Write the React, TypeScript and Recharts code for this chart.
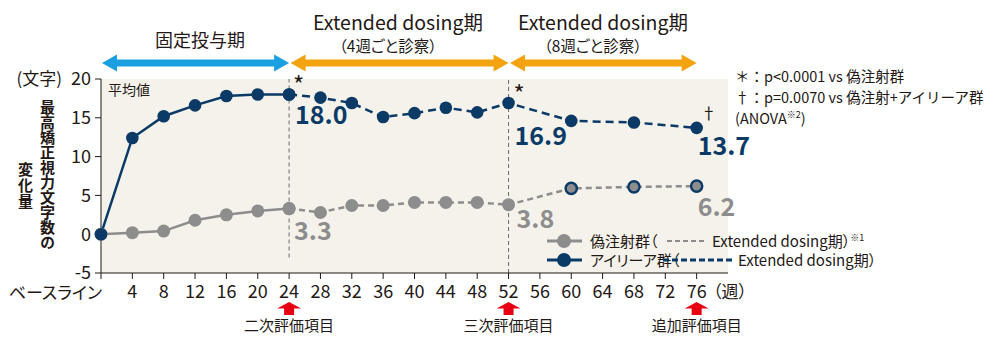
import React from "react";
import { LineChart, Line, XAxis, YAxis, ReferenceLine, ReferenceArea, LabelList } from "recharts";

const WEEKS = [0, 4, 8, 12, 16, 20, 24, 28, 32, 36, 40, 44, 48, 52, 60, 68, 76];
const EYLEA = [0, 12.4, 15.2, 16.6, 17.8, 18.0, 18.0, 17.6, 16.9, 15.1, 15.6, 16.3, 15.7, 16.9, 14.6, 14.4, 13.7];
const SHAM = [0, 0.2, 0.4, 1.8, 2.5, 3.0, 3.3, 2.8, 3.7, 3.7, 4.1, 4.1, 4.1, 3.8, 5.9, 6.1, 6.2];
const X_TICKS = [0, 4, 8, 12, 16, 20, 24, 28, 32, 36, 40, 44, 48, 52, 56, 60, 64, 68, 72, 76];
const Y_TICKS = [-5, 0, 5, 10, 15, 20];
const FIXED_END = 24; // end of fixed dosing, start of dashed lines
const PERIOD_BREAK = 52;
const LAST_WEEK = 76;
const LABELED_WEEKS = [24, 52, 76];
const SHAM_CROSSOVER = 60; // sham points from here on get a navy ring
const EVAL_MARKS = [
  { week: 24, label: "二次評価項目" },
  { week: 52, label: "三次評価項目" },
  { week: 76, label: "追加評価項目" },
];
const Y_TITLE_1 = "最高矯正視力文字数の";
const Y_TITLE_2 = "変化量";

const NAVY = "#0b3a66";
const GRAY = "#8d8d8d";
const INK = "#231815";
const BG = "#f4f2ea";
const FONT = "'Noto Sans CJK JP', 'Noto Sans', sans-serif";

// plot geometry, shared by the chart margins and the overlay annotations
const W = 1000;
const H = 353;
const PLOT_L = 101;
const PLOT_R = 728;
const PLOT_T = 79;
const PLOT_B = 273;
const X_MAX = 80;
const xs = (w: number) => PLOT_L + (w / X_MAX) * (PLOT_R - PLOT_L);
const ys = (v: number) => PLOT_T + ((20 - v) / 25) * (PLOT_B - PLOT_T);

const rows = WEEKS.map((week, i) => ({
  week,
  eyleaSolid: week <= FIXED_END ? EYLEA[i] : null,
  eyleaDash: week >= FIXED_END ? EYLEA[i] : null,
  shamSolid: week <= FIXED_END ? SHAM[i] : null,
  shamDash: week >= FIXED_END ? SHAM[i] : null,
}));

const LABEL_POS: Record<string, { dx: number; dy: number; color: string }> = {
  e24: { dx: 6, dy: 29, color: NAVY },
  e52: { dx: 6, dy: 42, color: NAVY },
  e76: { dx: 1, dy: 27, color: NAVY },
  s24: { dx: 5, dy: 31, color: GRAY },
  s52: { dx: 8, dy: 23, color: GRAY },
  s76: { dx: 1, dy: 30, color: GRAY },
};

const valueLabel = (prefix: string) => (props: any) => {
  const { x, y, value, index } = props;
  const week = rows[index]?.week;
  if (value == null || !LABELED_WEEKS.includes(week)) return null;
  const p = LABEL_POS[prefix + week];
  return (
    <text x={x + p.dx} y={y + p.dy} fill={p.color} fontSize={25} fontWeight={700} fontFamily={FONT}>
      {Number(value).toFixed(1)}
    </text>
  );
};

const navyDot = (props: any) => {
  const { cx, cy, index } = props;
  if (cy == null || cx == null) return <g key={`n${index}`} />;
  return <circle key={`n${index}`} cx={cx} cy={cy} r={6.3} fill={NAVY} />;
};

const grayDot = (props: any) => {
  const { cx, cy, index, payload } = props;
  if (cy == null || cx == null) return <g key={`g${index}`} />;
  if (payload.week >= SHAM_CROSSOVER)
    return <circle key={`g${index}`} cx={cx} cy={cy} r={5.6} fill={GRAY} stroke={NAVY} strokeWidth={2.4} />;
  return <circle key={`g${index}`} cx={cx} cy={cy} r={6.5} fill={GRAY} />;
};

const XTick = (props: any) => {
  const { x, y, payload } = props;
  if (payload.value === 0)
    return (
      <text x={x + 1} y={y + 20} textAnchor="end" fontSize={17} fill={INK} fontFamily={FONT} style={{ fontFeatureSettings: '"palt"' }}>
        ベースライン
      </text>
    );
  return (
    <text x={x} y={y + 19} textAnchor="middle" fontSize={18} fill={INK} fontFamily={FONT}>
      {payload.value}
    </text>
  );
};

const doubleArrow = (x1: number, x2: number, y: number, color: string) => {
  const h = 15;
  const pts = [
    [x1, y], [x1 + h, y - 8.5], [x1 + h, y - 3.5], [x2 - h, y - 3.5], [x2 - h, y - 8.5],
    [x2, y], [x2 - h, y + 8.5], [x2 - h, y + 3.5], [x1 + h, y + 3.5], [x1 + h, y + 8.5],
  ];
  return <polygon points={pts.map((p) => p.join(",")).join(" ")} fill={color} />;
};

const upArrow = (x: number) => {
  const pts = [[x, 302], [x + 12, 308.5], [x + 5, 308.5], [x + 5, 315], [x - 5, 315], [x - 5, 308.5], [x - 12, 308.5]];
  return <polygon key={`ua${x}`} points={pts.map((p) => p.join(",")).join(" ")} fill="#e60012" />;
};

const palt = { fontFeatureSettings: '"palt"' };

function Overlay() {
  const lastE = EYLEA[EYLEA.length - 1];
  return (
    <svg width={W} height={H} style={{ position: "absolute", left: 0, top: 0, pointerEvents: "none" }} fontFamily={FONT}>
      {/* period arrows */}
      {doubleArrow(xs(0) + 1, xs(FIXED_END), 63, "#1a9fe0")}
      {doubleArrow(xs(FIXED_END) + 1.5, xs(PERIOD_BREAK), 63, "#f3a30f")}
      {doubleArrow(xs(PERIOD_BREAK) + 1.5, xs(LAST_WEEK), 63, "#f3a30f")}
      <text x={200} y={47} textAnchor="middle" fontSize={18} fill={INK}>固定投与期</text>
      <text x={398} y={30} textAnchor="middle" fontSize={19.5} fill={INK}>Extended dosing期</text>
      <text x={388} y={52} textAnchor="middle" fontSize={15.5} fill={INK} style={palt}>（4週ごと診察）</text>
      <text x={603} y={30} textAnchor="middle" fontSize={19.5} fill={INK}>Extended dosing期</text>
      <text x={593} y={52} textAnchor="middle" fontSize={15.5} fill={INK} style={palt}>（8週ごと診察）</text>

      {/* axis titles */}
      <text x={62} y={85} textAnchor="end" fontSize={17} fill={INK}>(文字)</text>
      <text x={108} y={95} fontSize={14} fill={INK}>平均値</text>
      <text x={713} y={298} fontSize={17} fill={INK} style={palt}>（週）</text>

      {/* significance marks */}
      <text x={xs(FIXED_END) + 4} y={ys(EYLEA[WEEKS.indexOf(FIXED_END)]) - 1} fontSize={24} fill={INK}>*</text>
      <text x={xs(PERIOD_BREAK) + 5} y={ys(EYLEA[WEEKS.indexOf(PERIOD_BREAK)])} fontSize={24} fill={INK}>*</text>
      <text x={xs(LAST_WEEK) + 4} y={ys(lastE) - 9} fontSize={16} fill={INK}>†</text>

      {/* notes */}
      <text x={735} y={82} fontSize={14.5} fill={INK}>＊：p&lt;0.0001 vs 偽注射群</text>
      <text x={735} y={103} fontSize={14.5} fill={INK}>†：p=0.0070 vs 偽注射+アイリーア群</text>
      <text x={735} y={124} fontSize={14.5} fill={INK}>
        (ANOVA<tspan fontSize={9} dy={-6}>※2</tspan>
        <tspan dy={6}>)</tspan>
      </text>

      {/* legend */}
      <line x1={547} x2={582} y1={241} y2={241} stroke={GRAY} strokeWidth={3} />
      <circle cx={564} cy={241} r={7} fill={GRAY} />
      <text x={590} y={246.5} fontSize={15} fill={INK} style={palt}>偽注射群（</text>
      <line x1={667} x2={707} y1={241} y2={241} stroke={GRAY} strokeWidth={2} strokeDasharray="5 3" />
      <text x={712} y={246.5} fontSize={15} fill={INK} style={palt}>
        Extended dosing期）<tspan fontSize={9} dy={-6}>※1</tspan>
      </text>
      <line x1={547} x2={582} y1={260} y2={260} stroke={NAVY} strokeWidth={3} />
      <circle cx={564} cy={260} r={7} fill={NAVY} />
      <text x={590} y={265.5} fontSize={15} fill={INK} style={palt}>アイリーア群（</text>
      <line x1={663} x2={733} y1={260} y2={260} stroke={NAVY} strokeWidth={3} strokeDasharray="6 3" />
      <text x={738} y={265.5} fontSize={15} fill={INK} style={palt}>Extended dosing期）</text>

      {/* evaluation markers */}
      {EVAL_MARKS.map((m) => upArrow(xs(m.week)))}
      {EVAL_MARKS.map((m) => (
        <text key={m.label} x={xs(m.week)} y={331} textAnchor="middle" fontSize={15} fill={INK}>
          {m.label}
        </text>
      ))}
    </svg>
  );
}

const vTitle = (left: number, top: number, spacing: number): React.CSSProperties => ({
  position: "absolute", left, top, writingMode: "vertical-rl", fontSize: 15,
  fontWeight: 700, letterSpacing: spacing, color: INK, lineHeight: 1,
});

export default function App() {
  return (
    <div style={{ position: "absolute", left: 0, top: 0, width: W, height: H, background: "#fff", fontFamily: FONT }}>
      {/* vertical y-axis title */}
      <div style={vTitle(40, 100, 0)}>{Y_TITLE_1}</div>
      <div style={vTitle(18, 162, 1)}>{Y_TITLE_2}</div>
      <LineChart
        width={W}
        height={H}
        data={rows}
        margin={{ top: PLOT_T, right: W - PLOT_R, bottom: 0, left: 0 }}
        style={{ position: "absolute", left: 0, top: 0 }}
      >
        <ReferenceArea x1={0} x2={X_MAX} y1={-5} y2={20} fill={BG} fillOpacity={1} stroke="none" />
        <XAxis
          type="number"
          dataKey="week"
          domain={[0, X_MAX]}
          ticks={X_TICKS}
          interval={0}
          height={H - PLOT_B}
          tickSize={6}
          tickMargin={0}
          stroke={INK}
          tick={<XTick />}
        />
        <YAxis
          type="number"
          domain={[-5, 20]}
          ticks={Y_TICKS}
          width={PLOT_L}
          tickSize={6}
          tickMargin={4}
          stroke={INK}
          tick={{ fontSize: 18, fill: INK }}
        />
        <ReferenceLine segment={[{ x: FIXED_END, y: -3 }, { x: FIXED_END, y: 20 }]} stroke="#6b6b6b" strokeDasharray="4 3" />
        <ReferenceLine segment={[{ x: PERIOD_BREAK, y: -5 }, { x: PERIOD_BREAK, y: 20 }]} stroke="#6b6b6b" strokeDasharray="4 3" />
        <Line dataKey="shamSolid" stroke={GRAY} strokeWidth={2.5} dot={grayDot} isAnimationActive={false} />
        <Line dataKey="shamDash" stroke={GRAY} strokeWidth={2.5} strokeDasharray="6 4" dot={grayDot} isAnimationActive={false}>
          <LabelList dataKey="shamDash" content={valueLabel("s")} />
        </Line>
        <Line dataKey="eyleaSolid" stroke={NAVY} strokeWidth={2.5} dot={navyDot} isAnimationActive={false} />
        <Line dataKey="eyleaDash" stroke={NAVY} strokeWidth={2.5} strokeDasharray="8 5" dot={navyDot} isAnimationActive={false}>
          <LabelList dataKey="eyleaDash" content={valueLabel("e")} />
        </Line>
      </LineChart>
      <Overlay />
    </div>
  );
}
